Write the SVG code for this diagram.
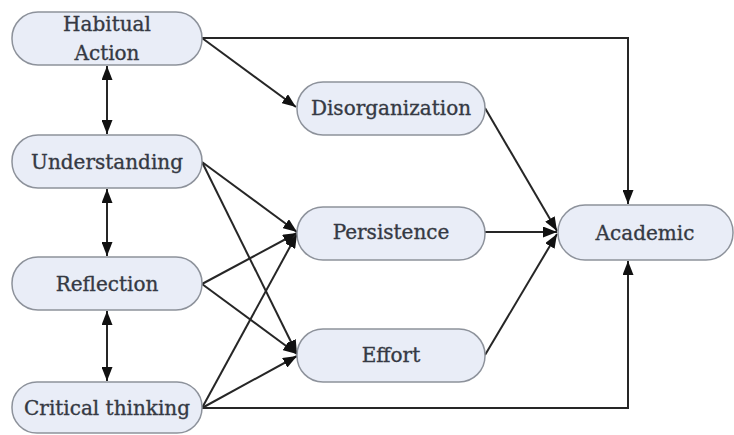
<svg xmlns="http://www.w3.org/2000/svg" width="734" height="435" viewBox="0 0 734 435">
<style>
.node rect{fill:#e9edf7;stroke:#8d929b;stroke-width:1.5}
.node text{font-family:"DejaVu Serif","Liberation Serif",serif;font-size:20px;fill:#353943;stroke:#353943;stroke-width:0.35;text-anchor:middle}
.conn line,.conn polyline{stroke:#262626;stroke-width:2;fill:none}
</style>
<defs>
<marker id="ah" viewBox="0 0 14 11" refX="14" refY="5.5" markerWidth="14" markerHeight="11" markerUnits="userSpaceOnUse" orient="auto-start-reverse">
<path d="M0,0 L14,5.5 L0,11 Z" fill="#111"/>
</marker>
</defs>
<rect width="734" height="435" fill="#ffffff"/>
<g class="conn">
<polyline points="202,38 628,38 628,204" marker-end="url(#ah)"/>
<line x1="202" y1="38" x2="296" y2="107" marker-end="url(#ah)"/>
<line x1="107" y1="66" x2="107" y2="134" marker-start="url(#ah)" marker-end="url(#ah)"/>
<line x1="107" y1="189" x2="107" y2="256" marker-start="url(#ah)" marker-end="url(#ah)"/>
<line x1="107" y1="311" x2="107" y2="381" marker-start="url(#ah)" marker-end="url(#ah)"/>
<line x1="202" y1="162" x2="297" y2="232" marker-end="url(#ah)"/>
<line x1="202" y1="162" x2="297" y2="354" marker-end="url(#ah)"/>
<line x1="202" y1="284" x2="297" y2="233" marker-end="url(#ah)"/>
<line x1="202" y1="284" x2="297" y2="354" marker-end="url(#ah)"/>
<line x1="202" y1="408" x2="297" y2="234" marker-end="url(#ah)"/>
<line x1="202" y1="408" x2="297" y2="356" marker-end="url(#ah)"/>
<polyline points="202,408 628,408 628,261" marker-end="url(#ah)"/>
<line x1="485" y1="108" x2="557" y2="231" marker-end="url(#ah)"/>
<line x1="485" y1="232" x2="557" y2="232" marker-end="url(#ah)"/>
<line x1="485" y1="355" x2="557" y2="234" marker-end="url(#ah)"/>
</g>
<g id="habitual" class="node"><rect x="12" y="12" width="190" height="53" rx="26"/><text x="107" y="31">Habitual</text><text x="107" y="60">Action</text></g>
<g id="understanding" class="node"><rect x="12" y="135" width="190" height="53" rx="26"/><text x="107" y="169">Understanding</text></g>
<g id="reflection" class="node"><rect x="12" y="257" width="190" height="53" rx="26"/><text x="107" y="291">Reflection</text></g>
<g id="critical" class="node"><rect x="12" y="382" width="190" height="51" rx="25"/><text x="107" y="415">Critical thinking</text></g>
<g id="disorganization" class="node"><rect x="297" y="82" width="188" height="53" rx="26"/><text x="391" y="115">Disorganization</text></g>
<g id="persistence" class="node"><rect x="297" y="207" width="188" height="53" rx="26"/><text x="391" y="239">Persistence</text></g>
<g id="effort" class="node"><rect x="297" y="329" width="188" height="53" rx="26"/><text x="391" y="362">Effort</text></g>
<g id="academic" class="node"><rect x="558" y="205" width="175" height="55" rx="27"/><text x="645" y="240">Academic</text></g>
</svg>
